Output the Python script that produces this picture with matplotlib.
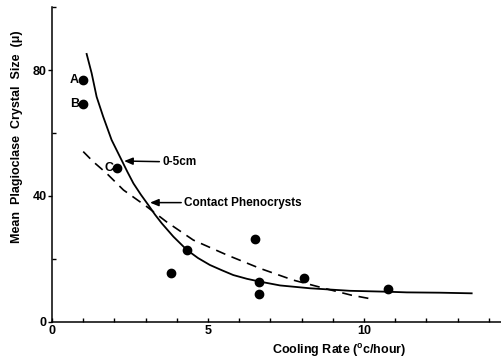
import matplotlib.pyplot as plt
from matplotlib.ticker import MultipleLocator, FixedLocator

plt.rcParams['font.family'] = ['Liberation Sans', 'DejaVu Sans']
plt.rcParams['font.weight'] = 'bold'
plt.rcParams['mathtext.fontset'] = 'custom'
plt.rcParams['mathtext.rm'] = 'Liberation Sans:bold'
plt.rcParams['mathtext.bf'] = 'Liberation Sans:bold'

# measured samples: cooling rate (deg C / hour) vs mean plagioclase size (microns)
rate = [0.98, 1.00, 2.09, 3.80, 4.32, 6.51, 6.65, 6.65, 8.09, 10.78]
size = [76.8, 69.2, 48.8, 15.7, 22.9, 26.2, 12.6, 8.9, 13.9, 10.4]
sample_tags = {0: "A", 1: "B", 2: "C"}

# hand-fitted trend for the 0.5 cm samples (solid)
fit_x = [1.11, 1.27, 1.43, 1.64, 1.91, 2.23, 2.42, 2.61, 2.85, 3.09, 3.30, 3.52,
         3.89, 4.32, 4.68, 5.06, 5.45, 5.81, 6.25, 6.67, 7.31, 8.27, 9.55,
         10.78, 11.37, 12.44, 13.45]
fit_y = [85.1, 79.0, 71.5, 65.2, 57.8, 51.4, 47.6, 44.0, 40.4, 37.1, 34.1, 31.3,
         27.1, 22.9, 20.3, 18.1, 16.4, 14.9, 13.7, 12.8, 11.6, 10.7, 9.9,
         9.6, 9.4, 9.3, 9.1]

# trend for the contact phenocrysts (dashed)
contact_x = [1.00, 1.32, 1.75, 2.29, 3.04, 3.67, 4.53, 5.60, 6.67, 7.73, 8.80, 9.60, 10.25]
contact_y = [54.1, 50.9, 47.2, 41.9, 36.6, 31.8, 26.0, 21.3, 17.0, 13.3, 10.5, 8.5, 7.3]

fig = plt.figure(figsize=(5.01, 3.58), dpi=100)
ax = fig.add_axes([0.1038, 0.1006, 0.8962, 0.8798])

ax.plot(fit_x, fit_y, color='black', lw=1.3)
ax.plot(contact_x, contact_y, color='black', lw=1.2, dashes=(6, 4))
ax.plot(rate, size, 'o', color='black', ms=6)

for i, tag in sample_tags.items():
    ax.annotate(tag, (rate[i], size[i]), xytext=(-3, 0), textcoords='offset points',
                ha='right', va='center', fontsize=9, fontweight='bold')

arrow = dict(arrowstyle='-|>,head_length=0.6,head_width=0.25', color='black', lw=1.1,
             shrinkA=0, shrinkB=0)
ax.annotate("0-5cm", xy=(2.31, 51.1), xytext=(3.53, 50.8), ha='left', va='center',
            fontsize=8.5, fontweight='bold', arrowprops=arrow)
ax.annotate("Contact Phenocrysts", xy=(3.14, 37.9), xytext=(4.23, 37.9), ha='left',
            va='center', fontsize=8.5, fontweight='bold', arrowprops=arrow)

ax.set_xlim(0, 14.39)
ax.set_ylim(0, 100)
ax.spines['top'].set_visible(False)
ax.spines['right'].set_visible(False)
for s in ('left', 'bottom'):
    ax.spines[s].set_linewidth(1.1)

ax.xaxis.set_major_locator(FixedLocator([0, 5, 10]))
ax.xaxis.set_minor_locator(MultipleLocator(1))
ax.yaxis.set_major_locator(FixedLocator([0, 40, 80]))
ax.yaxis.set_minor_locator(FixedLocator([20, 60, 100]))
ax.tick_params(axis='x', which='both', direction='in', length=3, width=1, pad=2,
               labelsize=9)
ax.tick_params(axis='y', which='major', direction='out', length=3, width=1, pad=1,
               labelsize=9)
ax.tick_params(axis='y', which='minor', direction='in', length=3, width=1)
for lab in ax.get_xticklabels() + ax.get_yticklabels():
    lab.set_fontweight('bold')

ax.set_xlabel(r"Cooling Rate ($^{\mathbf{o}}$c/hour)", fontsize=9, fontweight='bold')
ax.xaxis.set_label_coords(0.64, -0.089)
ax.xaxis.label.set_va('center')
ax.set_ylabel("Mean  Plagioclase  Crystal  Size  (\u03bc)", fontsize=9, fontweight='bold')
ax.yaxis.set_label_coords(-0.077, 0.587)
ax.yaxis.label.set_va('center')

fig.savefig("out.png", dpi=100)
